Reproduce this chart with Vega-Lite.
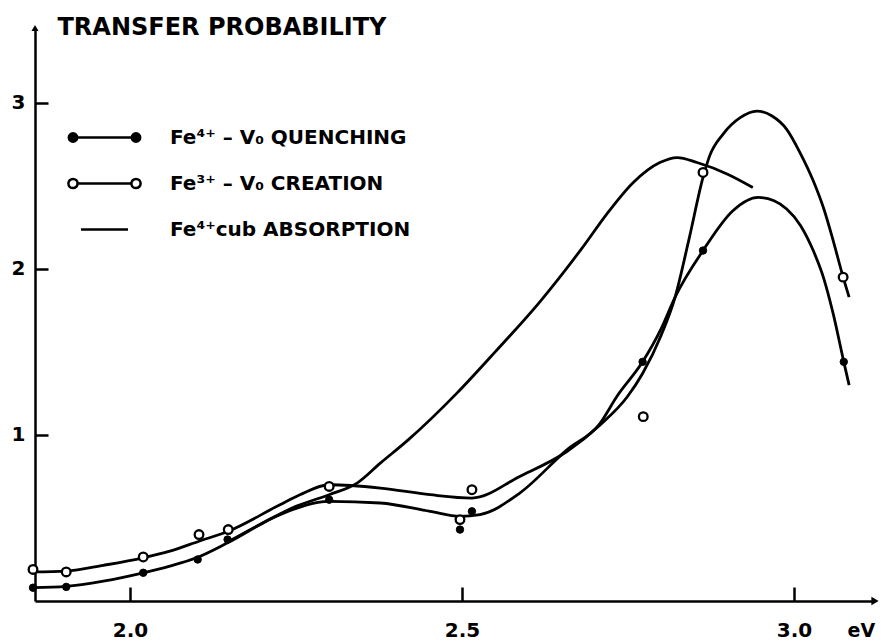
{
  "$schema": "https://vega.github.io/schema/vega-lite/v6.json",
  "width": 840,
  "height": 573,
  "autosize": {"type": "none"},
  "padding": {"left": 35, "top": 28, "right": 6, "bottom": 40},
  "background": "white",
  "config": {"view": {"stroke": null}, "font": "DejaVu Sans"},
  "datasets": {
    "curves": [
      {"series": "quenching", "x": 1.854, "y": 0.08},
      {"series": "quenching", "x": 1.904, "y": 0.088},
      {"series": "quenching", "x": 1.96, "y": 0.12},
      {"series": "quenching", "x": 2.02, "y": 0.17},
      {"series": "quenching", "x": 2.06, "y": 0.21},
      {"series": "quenching", "x": 2.10, "y": 0.26},
      {"series": "quenching", "x": 2.147, "y": 0.35},
      {"series": "quenching", "x": 2.226, "y": 0.52},
      {"series": "quenching", "x": 2.30, "y": 0.60},
      {"series": "quenching", "x": 2.377, "y": 0.59},
      {"series": "quenching", "x": 2.452, "y": 0.54},
      {"series": "quenching", "x": 2.497, "y": 0.51},
      {"series": "quenching", "x": 2.527, "y": 0.52},
      {"series": "quenching", "x": 2.587, "y": 0.65},
      {"series": "quenching", "x": 2.658, "y": 0.91},
      {"series": "quenching", "x": 2.708, "y": 1.07},
      {"series": "quenching", "x": 2.733, "y": 1.23},
      {"series": "quenching", "x": 2.772, "y": 1.44},
      {"series": "quenching", "x": 2.80, "y": 1.64},
      {"series": "quenching", "x": 2.821, "y": 1.83},
      {"series": "quenching", "x": 2.863, "y": 2.11},
      {"series": "quenching", "x": 2.908, "y": 2.35},
      {"series": "quenching", "x": 2.946, "y": 2.43},
      {"series": "quenching", "x": 2.97, "y": 2.41},
      {"series": "quenching", "x": 2.989, "y": 2.36},
      {"series": "quenching", "x": 3.01, "y": 2.26},
      {"series": "quenching", "x": 3.029, "y": 2.11},
      {"series": "quenching", "x": 3.045, "y": 1.94},
      {"series": "quenching", "x": 3.059, "y": 1.73},
      {"series": "quenching", "x": 3.075, "y": 1.44},
      {"series": "quenching", "x": 3.083, "y": 1.30},
      {"series": "creation", "x": 1.854, "y": 0.175},
      {"series": "creation", "x": 1.904, "y": 0.18},
      {"series": "creation", "x": 1.96, "y": 0.215},
      {"series": "creation", "x": 2.02, "y": 0.26},
      {"series": "creation", "x": 2.06, "y": 0.30},
      {"series": "creation", "x": 2.104, "y": 0.36},
      {"series": "creation", "x": 2.148, "y": 0.42},
      {"series": "creation", "x": 2.226, "y": 0.58},
      {"series": "creation", "x": 2.256, "y": 0.64},
      {"series": "creation", "x": 2.30, "y": 0.70},
      {"series": "creation", "x": 2.377, "y": 0.68},
      {"series": "creation", "x": 2.452, "y": 0.64},
      {"series": "creation", "x": 2.515, "y": 0.62},
      {"series": "creation", "x": 2.587, "y": 0.75},
      {"series": "creation", "x": 2.658, "y": 0.90},
      {"series": "creation", "x": 2.708, "y": 1.06},
      {"series": "creation", "x": 2.749, "y": 1.23},
      {"series": "creation", "x": 2.772, "y": 1.37},
      {"series": "creation", "x": 2.80, "y": 1.60},
      {"series": "creation", "x": 2.821, "y": 1.83},
      {"series": "creation", "x": 2.842, "y": 2.18},
      {"series": "creation", "x": 2.863, "y": 2.55},
      {"series": "creation", "x": 2.873, "y": 2.68},
      {"series": "creation", "x": 2.893, "y": 2.81},
      {"series": "creation", "x": 2.919, "y": 2.91},
      {"series": "creation", "x": 2.944, "y": 2.95},
      {"series": "creation", "x": 2.967, "y": 2.92},
      {"series": "creation", "x": 2.989, "y": 2.84},
      {"series": "creation", "x": 3.009, "y": 2.70},
      {"series": "creation", "x": 3.029, "y": 2.53},
      {"series": "creation", "x": 3.045, "y": 2.36},
      {"series": "creation", "x": 3.059, "y": 2.17},
      {"series": "creation", "x": 3.074, "y": 1.95},
      {"series": "creation", "x": 3.083, "y": 1.83},
      {"series": "absorption", "x": 2.147, "y": 0.355},
      {"series": "absorption", "x": 2.20, "y": 0.47},
      {"series": "absorption", "x": 2.25, "y": 0.57},
      {"series": "absorption", "x": 2.30, "y": 0.64},
      {"series": "absorption", "x": 2.342, "y": 0.71},
      {"series": "absorption", "x": 2.377, "y": 0.83},
      {"series": "absorption", "x": 2.419, "y": 0.97},
      {"series": "absorption", "x": 2.492, "y": 1.25},
      {"series": "absorption", "x": 2.55, "y": 1.50},
      {"series": "absorption", "x": 2.617, "y": 1.80},
      {"series": "absorption", "x": 2.68, "y": 2.12},
      {"series": "absorption", "x": 2.72, "y": 2.34},
      {"series": "absorption", "x": 2.758, "y": 2.52},
      {"series": "absorption", "x": 2.798, "y": 2.64},
      {"series": "absorption", "x": 2.824, "y": 2.67},
      {"series": "absorption", "x": 2.854, "y": 2.64},
      {"series": "absorption", "x": 2.90, "y": 2.57},
      {"series": "absorption", "x": 2.938, "y": 2.49}
    ],
    "markers": [
      {"series": "quenching", "x": 1.854, "y": 0.08},
      {"series": "quenching", "x": 1.904, "y": 0.085},
      {"series": "quenching", "x": 2.020, "y": 0.17},
      {"series": "quenching", "x": 2.102, "y": 0.25},
      {"series": "quenching", "x": 2.147, "y": 0.37},
      {"series": "quenching", "x": 2.300, "y": 0.61},
      {"series": "quenching", "x": 2.497, "y": 0.43},
      {"series": "quenching", "x": 2.515, "y": 0.54},
      {"series": "quenching", "x": 2.772, "y": 1.44},
      {"series": "quenching", "x": 2.863, "y": 2.11},
      {"series": "quenching", "x": 3.075, "y": 1.44},
      {"series": "creation", "x": 1.854, "y": 0.19},
      {"series": "creation", "x": 1.904, "y": 0.175},
      {"series": "creation", "x": 2.020, "y": 0.265},
      {"series": "creation", "x": 2.104, "y": 0.40},
      {"series": "creation", "x": 2.148, "y": 0.43},
      {"series": "creation", "x": 2.300, "y": 0.69},
      {"series": "creation", "x": 2.497, "y": 0.49},
      {"series": "creation", "x": 2.515, "y": 0.67},
      {"series": "creation", "x": 2.773, "y": 1.11},
      {"series": "creation", "x": 2.863, "y": 2.58},
      {"series": "creation", "x": 3.074, "y": 1.95}
    ],
    "arrows": [
      {"dir": "right", "x": 3.122, "y": 0},
      {"dir": "up", "x": 1.857, "y": 3.45}
    ]
  },
  "layer": [
    {
      "data": {"name": "curves"},
      "mark": {"type": "line", "interpolate": "monotone", "color": "black", "strokeWidth": 2.8},
      "encoding": {
        "x": {
          "field": "x", "type": "quantitative",
          "scale": {"domain": [1.857, 3.122], "nice": false, "zero": false},
          "axis": {
            "values": [2.0, 2.5, 3.0], "format": ".1f", "grid": false,
            "domainColor": "black", "domainWidth": 2.5,
            "tickColor": "black", "tickWidth": 2.5, "tickSize": -14,
            "labelPadding": 33, "labelFont": "DejaVu Sans", "labelFontWeight": "bold",
            "labelFontSize": 20, "labelColor": "black", "labelFlush": false,
            "title": "eV", "titleFont": "DejaVu Sans", "titleFontWeight": "bold", "titleFontSize": 19,
            "titleColor": "black", "titleX": 812, "titleY": 35, "titleAlign": "left",
            "titleBaseline": "alphabetic"
          }
        },
        "y": {
          "field": "y", "type": "quantitative",
          "scale": {"domain": [0, 3.45], "nice": false},
          "axis": {
            "values": [1, 2, 3], "format": "d", "grid": false,
            "domainColor": "black", "domainWidth": 2.5,
            "tickColor": "black", "tickWidth": 2.5, "tickSize": -13,
            "labelPadding": 23, "labelFont": "DejaVu Sans", "labelFontWeight": "bold",
            "labelFontSize": 20, "labelColor": "black",
            "title": "TRANSFER PROBABILITY", "titleFont": "DejaVu Sans", "titleFontWeight": "bold",
            "titleFontSize": 24, "titleColor": "black", "titleAngle": 0,
            "titleX": 22, "titleY": 6, "titleAlign": "left", "titleBaseline": "alphabetic"
          }
        },
        "detail": {"field": "series", "type": "nominal"}
      }
    },
    {
      "data": {"name": "curves"},
      "mark": {"type": "point", "filled": false, "opacity": 0, "strokeWidth": 2.5},
      "encoding": {
        "x": {"field": "x", "type": "quantitative"},
        "y": {"field": "y", "type": "quantitative"},
        "shape": {
          "field": "series", "type": "nominal",
          "scale": {
            "domain": ["quenching", "creation", "absorption"],
            "range": [
              "M-1.365,0L1.365,0M-1.785,0C-1.785,-0.116 -1.691,-0.21 -1.575,-0.21C-1.459,-0.21 -1.365,-0.116 -1.365,0C-1.365,0.116 -1.459,0.21 -1.575,0.21C-1.691,0.21 -1.785,0.116 -1.785,0ZM1.365,0C1.365,-0.116 1.459,-0.21 1.575,-0.21C1.691,-0.21 1.785,-0.116 1.785,0C1.785,0.116 1.691,0.21 1.575,0.21C1.459,0.21 1.365,0.116 1.365,0Z",
              "M-1.345,0L1.345,0M-1.805,0C-1.805,-0.127 -1.702,-0.23 -1.575,-0.23C-1.448,-0.23 -1.345,-0.127 -1.345,0C-1.345,0.127 -1.448,0.23 -1.575,0.23C-1.702,0.23 -1.805,0.127 -1.805,0ZM1.345,0C1.345,-0.127 1.448,-0.23 1.575,-0.23C1.702,-0.23 1.805,-0.127 1.805,0C1.805,0.127 1.702,0.23 1.575,0.23C1.448,0.23 1.345,0.127 1.345,0Z",
              "M-1.175,0L1.175,0"
            ]
          },
          "legend": {
            "orient": "none", "legendX": 48, "legendY": 88, "title": null, "padding": 0,
            "symbolSize": 1600, "symbolStrokeWidth": 2.5,
            "symbolOpacity": 1, "labelFont": "DejaVu Sans", "labelFontSize": 20, "labelLimit": 500,
            "labelFontWeight": "bold", "labelColor": "black", "labelOffset": 44, "rowPadding": 14,
            "labelExpr": "datum.label == 'quenching' ? 'Fe⁴⁺ – V₀ QUENCHING' : datum.label == 'creation' ? 'Fe³⁺ – V₀ CREATION' : 'Fe⁴⁺cub ABSORPTION'"
          }
        },
        "fill": {
          "field": "series", "type": "nominal",
          "scale": {"domain": ["quenching", "creation", "absorption"], "range": ["black", "white", "white"]},
          "legend": {
            "orient": "none", "legendX": 48, "legendY": 88, "title": null, "padding": 0,
            "symbolSize": 1600, "symbolStrokeWidth": 2.5,
            "symbolOpacity": 1, "labelFont": "DejaVu Sans", "labelFontSize": 20, "labelLimit": 500,
            "labelFontWeight": "bold", "labelColor": "black", "labelOffset": 44, "rowPadding": 14,
            "labelExpr": "datum.label == 'quenching' ? 'Fe⁴⁺ – V₀ QUENCHING' : datum.label == 'creation' ? 'Fe³⁺ – V₀ CREATION' : 'Fe⁴⁺cub ABSORPTION'"
          }
        },
        "stroke": {
          "field": "series", "type": "nominal",
          "scale": {"domain": ["quenching", "creation", "absorption"], "range": ["black", "black", "black"]},
          "legend": {
            "orient": "none", "legendX": 48, "legendY": 88, "title": null, "padding": 0,
            "symbolSize": 1600, "symbolStrokeWidth": 2.5,
            "symbolOpacity": 1, "labelFont": "DejaVu Sans", "labelFontSize": 20, "labelLimit": 500,
            "labelFontWeight": "bold", "labelColor": "black", "labelOffset": 44, "rowPadding": 14,
            "labelExpr": "datum.label == 'quenching' ? 'Fe⁴⁺ – V₀ QUENCHING' : datum.label == 'creation' ? 'Fe³⁺ – V₀ CREATION' : 'Fe⁴⁺cub ABSORPTION'"
          }
        }
      }
    },
    {
      "data": {"name": "markers"},
      "transform": [{"filter": {"field": "series", "equal": "quenching"}}],
      "mark": {"type": "point", "shape": "circle", "filled": true, "fill": "black", "stroke": "black", "strokeWidth": 1, "size": 55, "opacity": 1},
      "encoding": {
        "x": {"field": "x", "type": "quantitative"},
        "y": {"field": "y", "type": "quantitative"}
      }
    },
    {
      "data": {"name": "markers"},
      "transform": [{"filter": {"field": "series", "equal": "creation"}}],
      "mark": {"type": "point", "shape": "circle", "filled": false, "fill": "white", "fillOpacity": 1, "stroke": "black", "strokeWidth": 2.3, "size": 75, "opacity": 1},
      "encoding": {
        "x": {"field": "x", "type": "quantitative"},
        "y": {"field": "y", "type": "quantitative"}
      }
    },
    {
      "data": {"name": "arrows"},
      "transform": [{"filter": {"field": "dir", "equal": "right"}}],
      "mark": {"type": "point", "shape": "triangle-right", "filled": true, "color": "black", "size": 70, "opacity": 1},
      "encoding": {
        "x": {"field": "x", "type": "quantitative"},
        "y": {"field": "y", "type": "quantitative"}
      }
    },
    {
      "data": {"name": "arrows"},
      "transform": [{"filter": {"field": "dir", "equal": "up"}}],
      "mark": {"type": "point", "shape": "triangle-up", "filled": true, "color": "black", "size": 50, "opacity": 1},
      "encoding": {
        "x": {"field": "x", "type": "quantitative"},
        "y": {"field": "y", "type": "quantitative"}
      }
    }
  ]
}
